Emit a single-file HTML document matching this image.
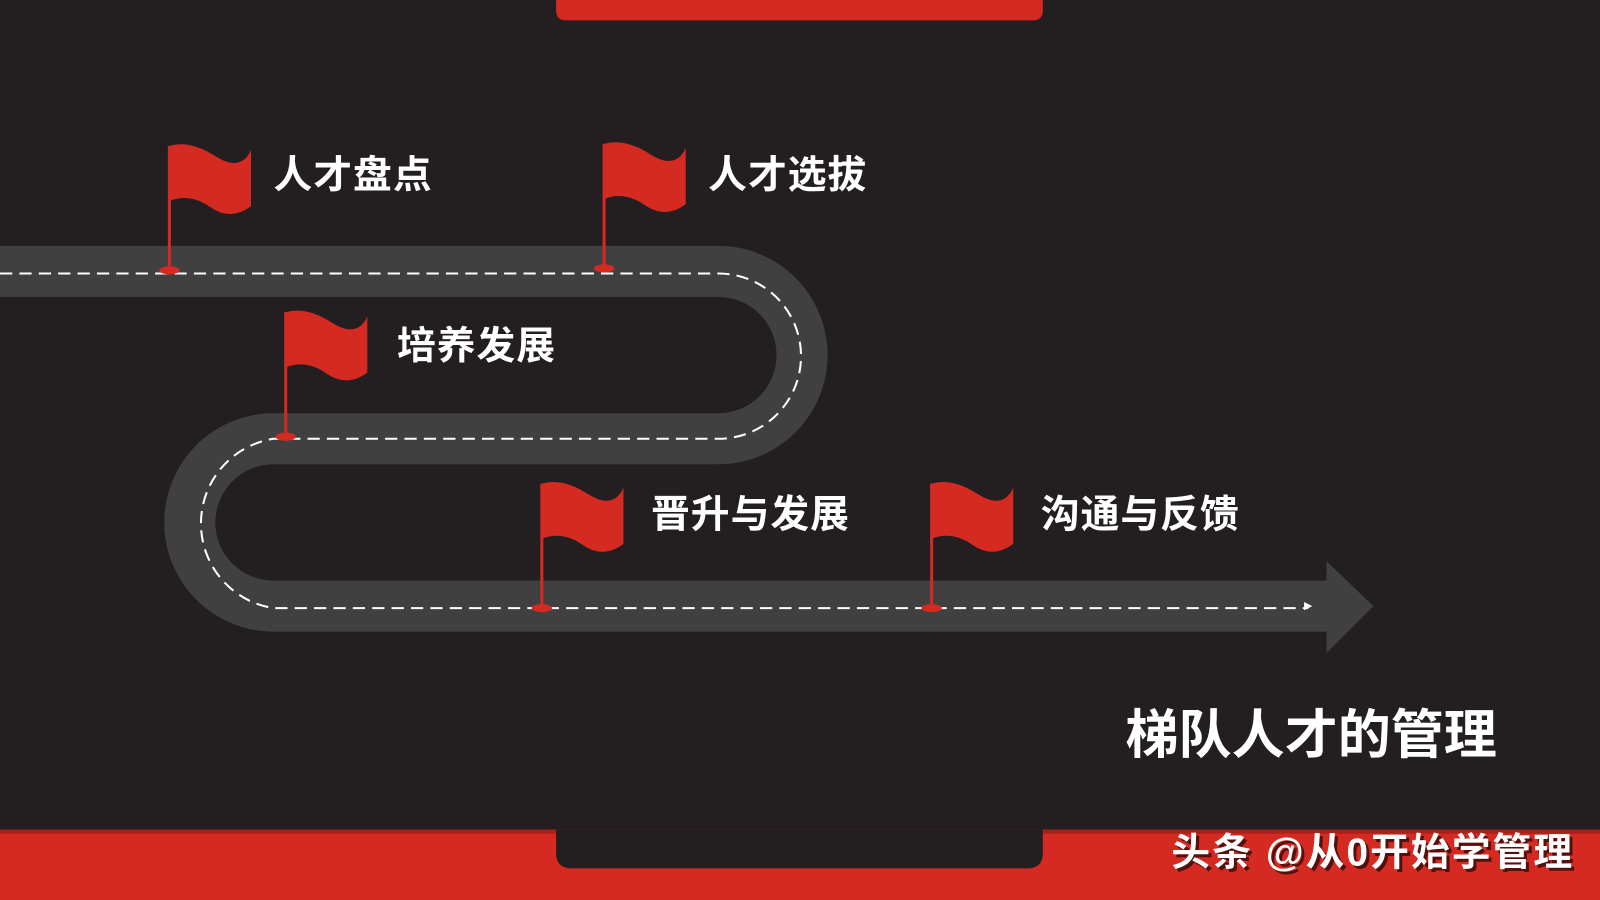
<!DOCTYPE html>
<html><head><meta charset="utf-8"><style>
html,body{margin:0;padding:0;background:#231f20;}
svg{display:block}
text{font-family:"Liberation Sans","Noto Sans CJK SC",sans-serif;font-weight:bold;fill:#fff}
</style></head><body>
<svg width="1600" height="900" viewBox="0 0 1568 882" preserveAspectRatio="none" xmlns="http://www.w3.org/2000/svg">
<rect width="1568" height="882" fill="#231f20"/>
<path d="M545 0H1022V10Q1022 20 1012 20H555Q545 20 545 10Z" fill="#d42a22"/>
<rect x="0" y="813" width="1568" height="69" fill="#d42a22"/>
<rect x="0" y="813" width="1568" height="4" fill="#a82019"/>
<path d="M545 813H1022V836Q1022 851 1007 851H560Q545 851 545 836Z" fill="#231f20"/>
<path d="M0 266H704A82 82 0 0 1 704 430H268A82 82 0 0 0 268 594H1300" fill="none" stroke="#404040" stroke-width="50"/>
<polygon points="1300,550 1346,594 1300,640" fill="#404040"/>
<path d="M0 268H704A80 80 0 0 1 704 430H268A84 84 0 0 0 268 596H1282" fill="none" stroke="#fff" stroke-width="2" stroke-dasharray="12,7"/>
<polygon points="1278,590 1286,594 1278,598" fill="#fff"/>
<g fill="#d42a22">
<g transform="translate(166,265)"><rect x="-1.5" y="-122" width="3" height="122"/><ellipse cx="0" cy="0" rx="10" ry="4"/><path d="M0 -122Q20 -128 45 -112T80 -118V-63Q60 -48 40 -62T0 -68Z"/></g>
<g transform="translate(592,263)"><rect x="-1.5" y="-122" width="3" height="122"/><ellipse cx="0" cy="0" rx="10" ry="4"/><path d="M0 -122Q20 -128 45 -112T80 -118V-63Q60 -48 40 -62T0 -68Z"/></g>
<g transform="translate(280,428)"><rect x="-1.5" y="-122" width="3" height="122"/><ellipse cx="0" cy="0" rx="10" ry="4"/><path d="M0 -122Q20 -128 45 -112T80 -118V-63Q60 -48 40 -62T0 -68Z"/></g>
<g transform="translate(531,596)"><rect x="-1.5" y="-122" width="3" height="122"/><ellipse cx="0" cy="0" rx="10" ry="4"/><path d="M0 -122Q20 -128 45 -112T80 -118V-63Q60 -48 40 -62T0 -68Z"/></g>
<g transform="translate(913,596)"><rect x="-1.5" y="-122" width="3" height="122"/><ellipse cx="0" cy="0" rx="10" ry="4"/><path d="M0 -122Q20 -128 45 -112T80 -118V-63Q60 -48 40 -62T0 -68Z"/></g>
</g>
<text x="268" y="184" font-size="38" letter-spacing="1">人才盘点</text>
<text x="694" y="184" font-size="38" letter-spacing="1">人才选拔</text>
<text x="389" y="352" font-size="38" letter-spacing="1">培养发展</text>
<text x="638" y="517" font-size="38" letter-spacing="1">晋升与发展</text>
<text x="1020" y="517" font-size="38" letter-spacing="1">沟通与反馈</text>
<text x="1103" y="738" font-size="52">梯队人才的管理</text>
<text x="1151" y="851" font-size="38" letter-spacing="2" style="fill:#000" opacity="0.6">头条 @从0开始学管理</text>
<text x="1148" y="848" font-size="38" letter-spacing="2">头条 @从0开始学管理</text>
</svg>
</body></html>
